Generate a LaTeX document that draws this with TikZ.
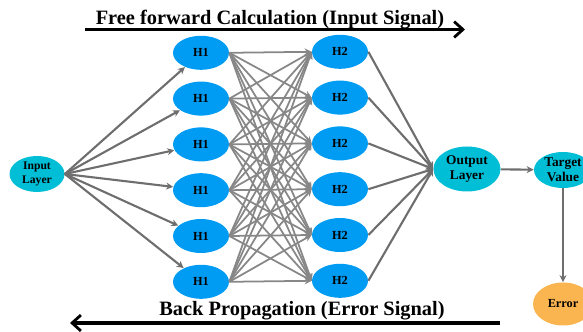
\documentclass[tikz,border=0pt]{standalone}
\usepackage{fontspec}
\setmainfont{Liberation Serif}
\usepackage{xcolor}
\usetikzlibrary{arrows.meta, shapes.geometric}

\definecolor{hblue}{RGB}{0,155,242}
\definecolor{lcyan}{RGB}{0,190,214}
\definecolor{eorange}{RGB}{250,180,80}
\definecolor{egray}{RGB}{110,110,110}
\definecolor{mgray}{RGB}{135,135,135}

\tikzset{
  neuron/.style={ellipse, fill=hblue, minimum width=1.12cm, minimum height=0.68cm, inner sep=0pt,
    font=\fontsize{7}{8}\selectfont\bfseries},
  layerbox/.style={ellipse, fill=lcyan, inner sep=0pt, align=center,
    font=\fontsize{7.6}{8.6}\selectfont\bfseries},
  link/.style={-{Stealth[length=4pt, width=4pt]}, egray, line width=1.2pt},
  biglink/.style={-{Straight Barb[length=5pt, width=9pt, line width=1.6pt]}, black, line width=2.2pt},
  signal/.style={font=\fontsize{11.6}{13}\selectfont\bfseries}
}

\begin{document}
\begin{tikzpicture}
        \useasboundingbox (0,0) rectangle (11.66,6.64);

        % 输入层
        \node[layerbox, minimum width=1.1cm, minimum height=0.72cm, font=\fontsize{6.6}{7.8}\selectfont\bfseries]
            (Input) at (0.74,3.16) {Input\\Layer};

        % 隐藏层 H1 和 H2
        \foreach \i in {1,...,6} {
            \node[neuron] (A\i) at (4.02, 6.5-0.916*\i) {H1};
            \node[neuron] (B\i) at (6.8, 6.52-0.916*\i) {H2};
        }

        % 输出层, 目标值, 误差
        \node[layerbox, minimum width=1.34cm, minimum height=0.9cm] (Output) at (9.34,3.26) {Output\\Layer};
        \node[layerbox, minimum width=1.16cm, minimum height=0.72cm] (Target) at (11.26,3.24) {Target\\Value};
        \node[ellipse, fill=eorange, minimum width=1.2cm, minimum height=0.86cm, inner sep=0pt,
              font=\fontsize{7}{8}\selectfont\bfseries] (Error) at (11.26,0.56) {Error};

        % 连接
        \foreach \i in {1,...,6} {
            \draw[link] (Input.east) -- (A\i);
            \draw[link] (B\i.east) -- (Output.west);
            \foreach \j in {1,...,6}
                \draw[link, mgray, line width=1pt] (A\i.east) -- (B\j.west);
        }
        \draw[link] (Output) -- (Target);
        \draw[link] (Target) -- (Error);

        % 前向与反向信号
        \coordinate (FwdL) at (1.7,6.05);
        \coordinate (FwdR) at (9.3,6.05);
        \coordinate (BackR) at (10.0,0.18);
        \coordinate (BackL) at (1.4,0.18);
        \draw[biglink] (FwdL) -- (FwdR);
        \draw[biglink] (BackR) -- (BackL);
        \node[signal] (FwdText) at (5.4,6.25) {Free forward Calculation (Input Signal)};
        \node[signal] (BackText) at (6.04,0.42) {Back Propagation (Error Signal)};
    \end{tikzpicture}
\end{document}
